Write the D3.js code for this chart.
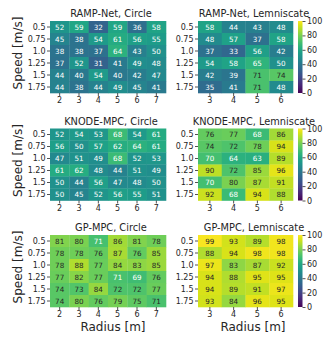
<!DOCTYPE html>
<html>
<head>
<meta charset="utf-8">
<script src="https://cdn.jsdelivr.net/npm/d3@7"></script>
<style>
  body { margin: 0; background: #fff; }
  svg { display: block; font-family: 'DejaVu Sans', sans-serif; }
</style>
</head>
<body>
<script>
  const speeds = ['0.5', '0.75', '1.0', '1.25', '1.5', '1.75'];
  const circleRadii = ['2', '3', '4', '5', '6', '7'];
  const lemRadii = ['3', '4', '5', '6'];

  const rampCircle = [
    [52, 59, 32, 59, 36, 58],
    [45, 38, 54, 61, 56, 55],
    [38, 38, 37, 64, 43, 50],
    [37, 52, 31, 41, 49, 48],
    [44, 40, 54, 40, 42, 47],
    [44, 38, 44, 49, 45, 41],
  ];
  const rampLem = [
    [58, 44, 43, 48],
    [48, 57, 37, 58],
    [37, 33, 56, 42],
    [54, 58, 65, 50],
    [42, 39, 71.2, 74],
    [35, 41, 71.4, 48],
  ];
  const knodeCircle = [
    [52, 54, 53, 68, 54, 61],
    [56, 50, 57, 62, 64, 61],
    [47, 51, 49, 68, 52, 53],
    [61, 62, 48, 44, 51, 49],
    [50, 44, 56, 47, 48, 50],
    [50, 45, 52, 56, 55, 51],
  ];
  const knodeLem = [
    [76, 77, 68, 86],
    [74, 72, 78, 94],
    [70, 64, 63, 89],
    [90, 72, 85, 96],
    [70, 80, 87, 91],
    [92, 68, 94, 88],
  ];
  const gpCircle = [
    [81, 80, 70.6, 86, 81, 78],
    [78, 78, 76, 87, 76, 85],
    [78, 88, 77, 84, 83, 85],
    [77, 82, 77, 70.8, 69, 76],
    [74, 73, 84, 72, 72, 77],
    [74, 80, 76, 79, 75, 71.3],
  ];
  const gpLem = [
    [99, 93, 89, 98],
    [88, 94, 98, 98],
    [97, 83, 87, 92],
    [94, 88, 95, 95],
    [94, 89, 91, 97],
    [93, 84, 96, 95],
  ];

  const cbTicks = [0, 20, 40, 60, 80, 100];

  const width = 332;
  const height = 344;
  const ink = '#262626';

  const color = d3.scaleSequential(d3.interpolateViridis).domain([0, 100]);
  const fmt = d3.format('.0f');

  const svg = d3.select('body')
    .append('svg')
    .attr('width', width)
    .attr('height', height);

  // one gradient for all colorbars
  const grad = svg.append('defs')
    .append('linearGradient')
    .attr('id', 'cbgrad')
    .attr('x1', 0).attr('y1', 1).attr('x2', 0).attr('y2', 0);
  d3.range(0, 1.0001, 0.05).forEach((t) => {
    grad.append('stop')
      .attr('offset', t)
      .attr('stop-color', d3.interpolateViridis(t));
  });

  const rowTops = [21, 128.5, 235];
  const cellH = 72;

  const panels = [
    { title: 'RAMP-Net, Circle', data: rampCircle, cols: circleRadii, row: 0, side: 'L' },
    { title: 'RAMP-Net, Lemniscate', data: rampLem, cols: lemRadii, row: 0, side: 'R' },
    { title: 'KNODE-MPC, Circle', data: knodeCircle, cols: circleRadii, row: 1, side: 'L' },
    { title: 'KNODE-MPC, Lemniscate', data: knodeLem, cols: lemRadii, row: 1, side: 'R' },
    { title: 'GP-MPC, Circle', data: gpCircle, cols: circleRadii, row: 2, side: 'L' },
    { title: 'GP-MPC, Lemniscate', data: gpLem, cols: lemRadii, row: 2, side: 'R' },
  ];

  const styleAxis = (g) => {
    g.select('.domain').remove();
    g.selectAll('.tick line').attr('stroke', ink).attr('stroke-width', 0.8);
    g.selectAll('.tick text')
      .attr('fill', ink)
      .attr('font-size', 8)
      .attr('font-family', 'DejaVu Sans');
  };

  panels.forEach((p) => {
    const top = rowTops[p.row];
    const left = p.side === 'L' ? 50 : 198;
    const w = p.side === 'L' ? 116 : 95;

    const x = d3.scaleBand().domain(p.cols).range([left, left + w]);
    const y = d3.scaleBand().domain(speeds).range([top, top + cellH]);

    const cells = [];
    p.data.forEach((row, i) => {
      row.forEach((v, j) => {
        cells.push({ s: speeds[i], r: p.cols[j], v: v });
      });
    });

    const g = svg.append('g');

    g.selectAll('rect')
      .data(cells)
      .join('rect')
      .attr('x', (d) => x(d.r))
      .attr('y', (d) => y(d.s))
      .attr('width', x.bandwidth() + 0.3)
      .attr('height', y.bandwidth() + 0.3)
      .attr('fill', (d) => color(d.v));

    g.selectAll('text.ann')
      .data(cells)
      .join('text')
      .attr('class', 'ann')
      .attr('x', (d) => x(d.r) + x.bandwidth() / 2)
      .attr('y', (d) => y(d.s) + y.bandwidth() / 2)
      .attr('dy', '0.36em')
      .attr('text-anchor', 'middle')
      .attr('font-size', 7.2)
      .attr('fill', (d) => (d.v >= 71 ? ink : '#fff'))
      .text((d) => fmt(d.v));

    svg.append('g')
      .attr('transform', `translate(${left},0)`)
      .call(d3.axisLeft(y).tickSize(3).tickPadding(1.5))
      .call(styleAxis);

    svg.append('g')
      .attr('transform', `translate(0,${top + cellH})`)
      .call(d3.axisBottom(x).tickSize(3).tickPadding(1.5))
      .call(styleAxis);

    svg.append('text')
      .attr('x', p.side === 'L' ? 111 : 254)
      .attr('y', top - 4)
      .attr('text-anchor', 'middle')
      .attr('font-size', 9.8)
      .attr('fill', ink)
      .text(p.title);

    if (p.side === 'L') {
      svg.append('text')
        .attr('transform', `translate(22,${top + cellH / 2 - 4}) rotate(-90)`)
        .attr('text-anchor', 'middle')
        .attr('font-size', 12)
        .attr('fill', ink)
        .text('Speed [m/s]');
    } else {
      // colorbar
      const cy = d3.scaleLinear().domain([0, 100]).range([top + cellH, top]);
      svg.append('rect')
        .attr('x', 298)
        .attr('y', top)
        .attr('width', 4.5)
        .attr('height', cellH)
        .attr('fill', 'url(#cbgrad)');
      svg.append('g')
        .attr('transform', 'translate(302.5,0)')
        .call(d3.axisRight(cy).tickValues(cbTicks).tickSize(3).tickPadding(1.5))
        .call(styleAxis);
    }
  });

  svg.append('text')
    .attr('x', 113)
    .attr('y', 331)
    .attr('text-anchor', 'middle')
    .attr('font-size', 12)
    .attr('fill', ink)
    .text('Radius [m]');

  svg.append('text')
    .attr('x', 253)
    .attr('y', 331)
    .attr('text-anchor', 'middle')
    .attr('font-size', 12)
    .attr('fill', ink)
    .text('Radius [m]');
</script>
</body>
</html>
